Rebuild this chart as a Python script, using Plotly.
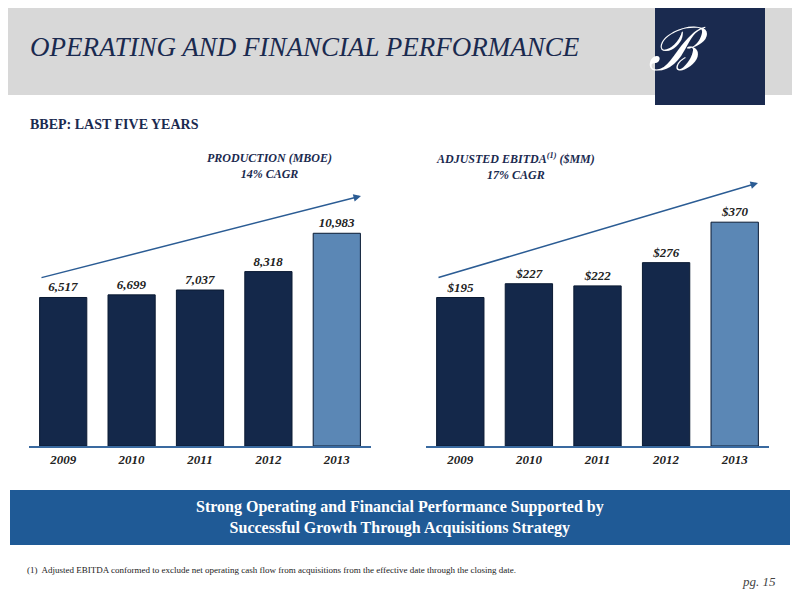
import plotly.graph_objects as go

years = ["2009", "2010", "2011", "2012", "2013"]
production = [6517, 6699, 7037, 8318, 10983]
prod_labels = ["6,517", "6,699", "7,037", "8,318", "10,983"]
ebitda = [195, 227, 222, 276, 370]
ebitda_labels = ["$195", "$227", "$222", "$276", "$370"]

NAVY = "#14284a"
LIGHT = "#5b87b5"
colors = [NAVY, NAVY, NAVY, NAVY, LIGHT]
SERIF = "Liberation Serif"
W, H, OFF = 792, 592, 8

def px(x): return (x - OFF) / W
def py(y): return 1 - (y - OFF) / H

PB, EB = -3810, -150
fig = go.Figure()
fig.add_bar(x=years, y=[v - PB for v in production], base=PB, marker=dict(color=colors, line=dict(color="#0a1a33", width=1)),
            width=0.69, text=[f"<b><i>{t}</i></b>" for t in prod_labels], textposition="outside", cliponaxis=False,
            textfont=dict(family=SERIF, size=13, color="#222"), xaxis="x", yaxis="y")
fig.add_bar(x=years, y=[v - EB for v in ebitda], base=EB, marker=dict(color=colors, line=dict(color="#0a1a33", width=1)),
            width=0.69, text=[f"<b><i>{t}</i></b>" for t in ebitda_labels], textposition="outside", cliponaxis=False,
            textfont=dict(family=SERIF, size=13, color="#222"), xaxis="x2", yaxis="y2")

ax = dict(showgrid=False, zeroline=False, showline=True, linecolor="#3a6aa0", linewidth=2,
          tickfont=dict(family=SERIF, size=13, color="#222"), ticks="", fixedrange=True,
          tickprefix="<i><b>", ticksuffix="</b></i>")
fig.update_layout(
    width=W, height=H, margin=dict(l=0, r=0, t=0, b=0), showlegend=False,
    plot_bgcolor="rgba(0,0,0,0)", paper_bgcolor="white",
    xaxis=dict(domain=[px(29), px(371)], range=[-0.5, 4.5], anchor="y", **ax),
    xaxis2=dict(domain=[px(426), px(769)], range=[-0.5, 4.5], anchor="y2", **ax),
    yaxis=dict(domain=[py(446), py(180)], range=[-3810, 14687], visible=False),
    yaxis2=dict(domain=[py(446), py(180)], range=[-150, 468], visible=False),
)

shapes = [
    dict(type="rect", xref="paper", yref="paper", x0=0, x1=1, y0=py(95), y1=1, fillcolor="#d8d8d8", line_width=0, layer="below"),
    dict(type="rect", xref="paper", yref="paper", x0=px(655), x1=px(765), y0=py(105), y1=1, fillcolor="#1a2a4f", line_width=0, layer="below"),
    dict(type="rect", xref="paper", yref="paper", x0=px(10), x1=px(790), y0=py(545), y1=py(490), fillcolor="#1f5a96", line_width=0, layer="below"),
]
fig.update_layout(shapes=shapes)

ann = [
    dict(x=px(28), y=py(47), text="<i>OPERATING AND FINANCIAL PERFORMANCE</i>", font=dict(family=SERIF, size=27, color="#1a2a4f"), xanchor="left"),
    dict(x=px(710), y=py(50), text="<i>ℬ</i>", font=dict(family=SERIF, size=60, color="white")),
    dict(x=px(28), y=py(124), text="<b>BBEP: LAST FIVE YEARS</b>", font=dict(family=SERIF, size=14, color="#1a2a4f"), xanchor="left"),
    dict(x=px(205), y=py(166), text="<b><i>PRODUCTION (MBOE)<br>14% CAGR</i></b>", font=dict(family=SERIF, size=12, color="#1a2a4f")),
    dict(x=px(597), y=py(166), text="<b><i>ADJUSTED EBITDA<sup>(1)</sup> ($MM)<br>17% CAGR</i></b>", font=dict(family=SERIF, size=12, color="#1a2a4f")),
    dict(x=px(400), y=py(517), text="<b>Strong Operating and Financial Performance Supported by<br>Successful Growth Through Acquisitions Strategy</b>", font=dict(family=SERIF, size=16, color="white")),
    dict(x=px(25), y=py(570), text="(1)  Adjusted EBITDA conformed to exclude net operating cash flow from acquisitions from the effective date through the closing date.", font=dict(family=SERIF, size=9, color="#222"), xanchor="left"),
    dict(x=px(778), y=py(581), text="<i>pg. 15</i>", font=dict(family=SERIF, size=13, color="#444"), xanchor="right"),
]
for a in ann:
    a.update(xref="paper", yref="paper", showarrow=False, yanchor="middle")
ann.append(dict(xref="paper", yref="paper", axref="pixel", ayref="pixel", x=px(361), y=py(196), ax=-321, ay=82,
                showarrow=True, arrowhead=2, arrowsize=1, arrowwidth=1.5, arrowcolor="#2b5c94", text=""))
ann.append(dict(xref="paper", yref="paper", axref="pixel", ayref="pixel", x=px(758), y=py(183), ax=-321, ay=95,
                showarrow=True, arrowhead=2, arrowsize=1, arrowwidth=1.5, arrowcolor="#2b5c94", text=""))
fig.update_layout(annotations=ann)
fig.write_html("out.html")
